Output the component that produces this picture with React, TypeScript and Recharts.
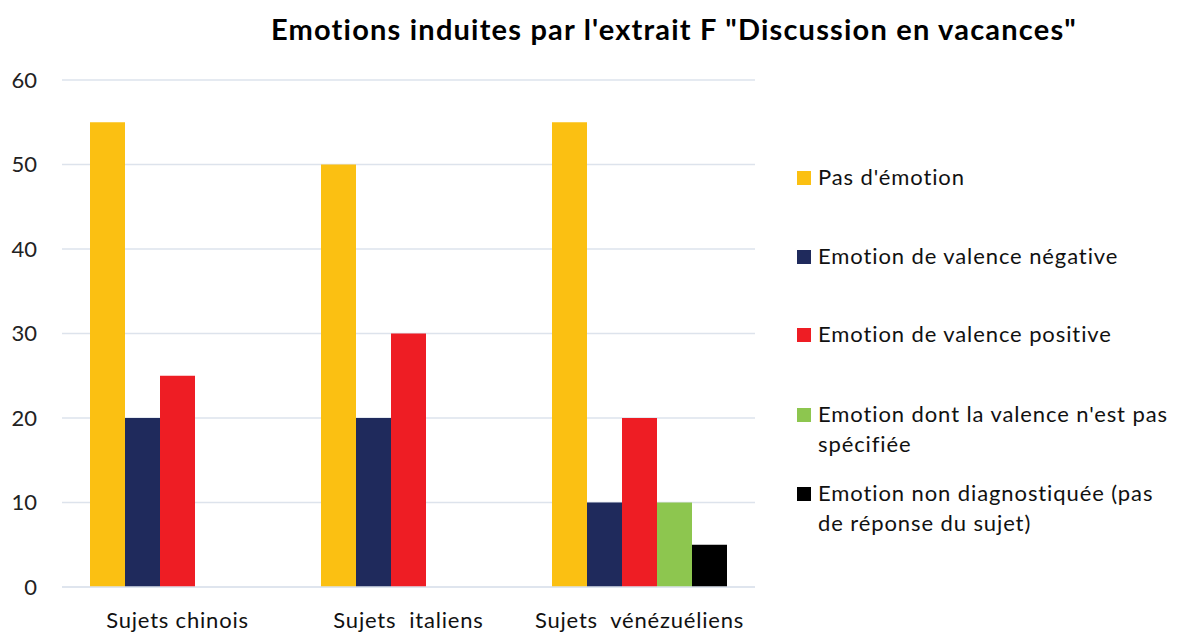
import { Bar, BarChart, CartesianGrid, XAxis, YAxis } from "recharts";

const categories = ["Sujets chinois", "Sujets  italiens", "Sujets  vénézuéliens"];
const pasEmotion = [55, 50, 55];
const negative = [20, 20, 10];
const positive = [25, 30, 20];
const nonSpecifiee = [0, 0, 10];
const nonDiagnostiquee = [0, 0, 5];
const yTicks = [0, 10, 20, 30, 40, 50, 60];

const series = [
    { key: "pas", label: "Pas d'émotion", color: "#FBC012", lines: ["Pas d'émotion"] },
    { key: "neg", label: "Emotion de valence négative", color: "#1F2A5C", lines: ["Emotion de valence négative"] },
    { key: "pos", label: "Emotion de valence positive", color: "#EE1D24", lines: ["Emotion de valence positive"] },
    { key: "nsp", label: "Emotion dont la valence n'est pas spécifiée", color: "#8DC64F", lines: ["Emotion dont la valence n'est pas", "spécifiée"] },
    { key: "ndi", label: "Emotion non diagnostiquée (pas de réponse du sujet)", color: "#000000", lines: ["Emotion non diagnostiquée (pas", "de réponse du sujet)"] },
];

const data = categories.map((name, i) => ({
    name,
    pas: pasEmotion[i],
    neg: negative[i],
    pos: positive[i],
    nsp: nonSpecifiee[i],
    ndi: nonDiagnostiquee[i],
}));

const font = "Lato, 'Open Sans', sans-serif";

// legend rows: top y of each block
const legendTops = [162, 241, 319, 399, 478];

export default function App() {
    return (
        <div
            style={{
                position: "absolute",
                left: 0,
                top: 0,
                width: 1181,
                height: 633,
                background: "#fff",
                fontFamily: font,
            }}
        >
            <div
                style={{
                    position: "absolute",
                    left: 0,
                    width: 1348,
                    top: 11,
                    textAlign: "center",
                    fontSize: 29,
                    letterSpacing: 1.2,
                    fontWeight: 700,
                    color: "#000",
                }}
            >
                Emotions induites par l'extrait F "Discussion en vacances"
            </div>

            <div style={{ position: "absolute", left: 0, top: 0 }}>
                <BarChart
                    width={780}
                    height={633}
                    data={data}
                    margin={{ top: 80, right: 25, left: 0, bottom: 0 }}
                    barGap={0}
                    barCategoryGap={28}
                >
                    <CartesianGrid vertical={false} stroke="#DDE3EC" strokeWidth={1.5} />
                    <XAxis
                        dataKey="name"
                        axisLine={{ stroke: "#DDE3EC", strokeWidth: 1.5 }}
                        tickLine={false}
                        height={46}
                        tickMargin={19}
                        interval={0}
                        tickFormatter={(v: string) => v.replace(/ /g, "\u00a0")}
                        tick={{ fill: "#111", fontSize: 22, fontFamily: font, style: { letterSpacing: 0.8 } }}
                    />
                    <YAxis
                        domain={[0, 60]}
                        ticks={yTicks}
                        width={62}
                        axisLine={false}
                        tickLine={false}
                        tickMargin={19}
                        tick={{ fill: "#222", fontSize: 22, fontFamily: font }}
                    />
                    {series.map((s) => (
                        <Bar key={s.key} dataKey={s.key} name={s.label} fill={s.color} isAnimationActive={false} />
                    ))}
                </BarChart>
            </div>

            {series.map((s, i) => (
                <div
                    key={s.key}
                    style={{
                        position: "absolute",
                        left: 797,
                        top: legendTops[i],
                        fontSize: 22,
                        letterSpacing: 0.9,
                        lineHeight: "30px",
                        color: "#111",
                    }}
                >
                    <span
                        style={{
                            position: "absolute",
                            left: 0,
                            top: 9,
                            width: 14,
                            height: 14,
                            background: s.color,
                        }}
                    />
                    <div style={{ marginLeft: 21, whiteSpace: "nowrap" }}>
                        {s.lines.map((l) => (
                            <div key={l}>{l}</div>
                        ))}
                    </div>
                </div>
            ))}
        </div>
    );
}
